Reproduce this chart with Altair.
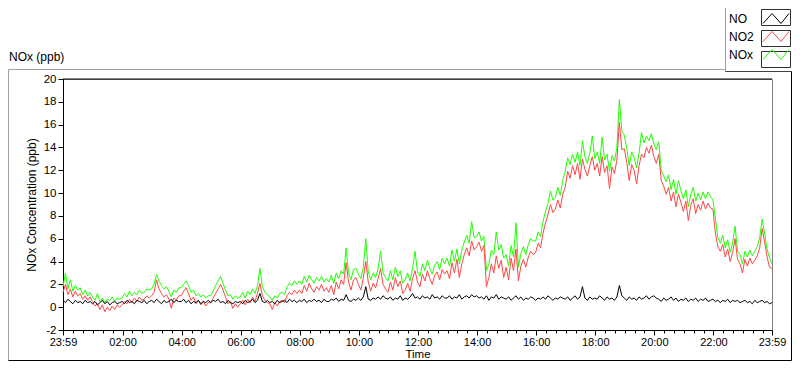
import altair as alt
import pandas as pd

series_names = ["NO", "NO2", "NOx"]
series_colors = ["#000000", "#ff4646", "#1eff00"]

# minutes after 23:59 (5-minute samples)
minutes = list(range(0, 1441, 5))

tick_minutes = [0, 121, 241, 361, 481, 601, 721, 841, 961, 1081, 1201, 1321, 1440]
tick_labels = ["23:59", "02:00", "04:00", "06:00", "08:00", "10:00", "12:00",
               "14:00", "16:00", "18:00", "20:00", "22:00", "23:59"]
minor_tick_minutes = [m for m in range(21, 1440, 20) if m not in tick_minutes]
y_ticks = [-2, 0, 2, 4, 6, 8, 10, 12, 14, 16, 18, 20]

no2 = [
    1.3, 2.0, 1.1, 1.6, 0.9, 1.4, 1.0, 1.2, 0.7, 1.0, 0.6, 0.9,
    0.5, 0.1, 0.3, -0.2, 0.2, -0.4, 0.0, -0.3, 0.1, -0.2, 0.2, 0.0,
    0.2, 0.5, 0.3, 0.7, 0.4, 0.8, 0.5, 0.9, 0.6, 0.7, 1.0, 0.8,
    1.0, 1.3, 2.4, 1.6, 1.2, 0.9, 1.1, 0.7, -0.1, 0.8, 0.6, 1.0,
    1.0, 1.4, 1.7, 1.2, 0.6, 0.9, 0.3, 0.6, 0.2, 0.5, 0.1, 0.4,
    0.4, 0.8, 1.2, 1.6, 2.0, 1.5, 0.9, 0.3, 0.5, -0.1, 0.3, 0.0,
    0.3, 0.6, 0.2, 0.7, 0.4, 0.9, 0.5, 1.2, 2.1, 1.0, 0.6, 0.4,
    0.3, -0.2, 0.4, 0.1, 0.5, 0.6, 0.4, 1.0, 1.3, 1.1, 1.5, 1.2,
    1.5, 1.2, 1.9, 1.4, 2.1, 1.6, 1.3, 1.8, 1.5, 2.0, 1.4, 1.7,
    1.3, 1.9, 1.1, 2.2, 1.6, 2.4, 2.0, 3.9, 2.2, 1.5, 2.4, 2.6,
    2.0, 1.5, 2.6, 4.0, 2.2, 1.4, 2.1, 1.7, 2.5, 3.4, 2.0, 1.6,
    1.3, 2.2, 1.5, 2.6, 1.8, 2.3, 1.2, 1.5, 2.1, 1.4, 2.5, 3.2,
    2.2, 1.8, 2.9, 2.3, 3.2, 2.5, 2.0, 2.8, 3.1, 2.4, 3.3, 2.9,
    3.2, 2.5, 3.9, 3.0, 4.2, 2.6, 3.8, 4.6, 5.2, 4.5, 5.8, 5.0,
    5.3, 5.7, 4.9, 5.4, 1.8, 2.6, 3.8, 3.0, 4.5, 3.4, 4.1, 2.6,
    3.5, 2.4, 4.3, 3.2, 5.1, 2.3, 3.6, 4.2, 3.5, 4.4, 4.9, 4.6,
    4.8, 5.6, 5.2, 6.5, 7.4, 8.1, 9.0, 8.3, 8.6, 9.4, 8.7, 9.9,
    10.5, 11.9, 11.3, 12.4, 11.6, 12.6, 11.2, 13.0, 12.1, 11.5, 12.4, 13.2,
    12.0, 12.6, 11.5, 13.2, 11.8, 12.4, 10.4, 12.3, 11.7, 12.9, 16.2, 13.8,
    13.9, 12.7, 11.1, 12.5, 12.0, 10.8, 12.4, 13.4, 13.1, 14.0, 13.5, 14.2,
    13.2, 12.6, 13.4, 11.1, 10.6, 9.9, 10.5, 9.3, 10.1, 8.8, 9.9, 9.2,
    8.4, 9.3, 7.6, 8.9, 9.5, 8.2, 9.0, 8.5, 9.3, 8.6, 9.1, 8.7,
    8.6, 6.5, 5.3, 4.9, 5.5, 4.4, 5.1, 4.0, 4.8, 6.0, 4.2, 3.8,
    3.0, 4.2, 3.6, 4.3, 3.8, 4.1, 4.5, 5.2, 6.9, 5.7, 4.4, 3.5,
    3.4,
]

nox = [
    1.8, 3.0, 1.6, 2.4, 1.4, 1.9, 1.5, 1.7, 1.1, 1.5, 1.0, 1.3,
    0.9, 0.6, 1.2, 0.5, 0.8, 0.4, 0.7, 0.6, 0.9, 0.5, 0.8, 0.7,
    0.8, 1.2, 0.9, 1.4, 1.0, 1.3, 1.1, 1.5, 1.2, 1.3, 1.6, 1.5,
    1.6, 2.0, 2.9, 2.3, 1.9, 1.6, 1.8, 1.4, 0.9, 1.5, 1.3, 1.7,
    1.7, 2.0, 2.3, 1.9, 1.3, 1.5, 1.0, 1.2, 0.9, 1.1, 0.8, 1.0,
    1.0, 1.4, 1.9, 2.3, 2.7, 2.1, 1.5, 1.0, 1.1, 0.7, 1.0, 0.8,
    0.9, 1.3, 0.8, 1.4, 1.1, 1.6, 1.2, 1.9, 3.4, 1.8, 1.3, 1.1,
    0.9, 0.6, 1.0, 0.8, 1.2, 1.3, 1.1, 1.8, 2.1, 1.9, 2.3, 2.0,
    2.3, 2.0, 2.7, 2.2, 2.8, 2.4, 2.1, 2.6, 2.3, 2.7, 2.2, 2.5,
    2.2, 2.8, 2.1, 3.0, 2.5, 3.2, 2.9, 5.2, 3.0, 2.4, 3.3, 3.4,
    2.9, 2.5, 3.5, 6.0, 3.1, 2.4, 3.0, 2.6, 3.4, 4.9, 3.0, 2.6,
    2.3, 3.2, 2.4, 3.5, 2.7, 3.2, 2.1, 2.4, 3.0, 2.3, 3.4, 4.9,
    3.1, 2.7, 3.8, 3.2, 4.1, 3.4, 2.9, 3.7, 4.0, 3.3, 4.3, 3.8,
    4.3, 3.6, 5.0, 4.0, 5.1, 3.8, 5.0, 5.7, 6.3, 5.6, 7.5, 6.1,
    6.2, 6.6, 5.8, 6.2, 3.2, 3.8, 5.0, 4.6, 6.6, 5.0, 5.5, 4.3,
    4.6, 3.6, 5.4, 4.4, 7.4, 3.5, 4.7, 5.3, 4.6, 5.5, 6.0, 5.8,
    5.8, 6.6, 6.2, 7.5, 8.4, 9.1, 10.2, 9.4, 9.6, 10.5, 9.8, 11.1,
    11.9, 13.1, 12.5, 13.4, 12.7, 13.6, 12.4, 14.6, 13.2, 12.6, 13.5, 15.0,
    13.0, 13.6, 12.6, 14.9, 12.9, 13.4, 11.9, 13.3, 12.8, 14.0, 18.2, 15.4,
    15.1, 13.9, 12.4, 13.6, 13.1, 12.2, 13.5, 15.3, 14.4, 15.0, 14.6, 15.2,
    14.3, 13.8, 14.5, 12.0, 11.5, 11.0, 11.6, 10.3, 11.2, 9.9, 11.1, 10.2,
    9.5, 10.3, 8.8, 9.9, 10.5, 9.3, 10.0, 9.4, 10.1, 9.5, 10.1, 9.7,
    9.4, 7.8, 6.1, 5.6, 6.3, 5.2, 5.9, 4.8, 5.6, 7.1, 4.9, 4.6,
    3.8, 4.9, 4.4, 5.0, 4.5, 4.9, 5.3, 6.1, 7.7, 6.5, 5.1, 4.3,
    3.8,
]

no = [
    0.6, 0.4, 0.7, 0.5, 0.3, 0.6, 0.4, 0.5, 0.3, 0.6, 0.4, 0.5,
    0.3, 0.5, 0.2, 0.4, 0.6, 0.3, 0.5, 0.2, 0.4, 0.5, 0.3, 0.4,
    0.5, 0.3, 0.6, 0.4, 0.5, 0.3, 0.6, 0.5, 0.4, 0.6, 0.3, 0.5,
    0.6, 0.4, 0.7, 0.5, 0.3, 0.6, 0.4, 0.5, 0.7, 0.4, 0.6, 0.5,
    0.5, 0.7, 0.4, 0.6, 0.3, 0.5, 0.4, 0.6, 0.3, 0.5, 0.4, 0.6,
    0.4, 0.6, 0.5, 0.7, 0.4, 0.5, 0.3, 0.6, 0.4, 0.3, 0.5, 0.4,
    0.5, 0.3, 0.6, 0.4, 0.5, 0.7, 0.4, 0.6, 1.2, 0.5, 0.4, 0.6,
    0.4, 0.5, 0.3, 0.6, 0.4, 0.5, 0.6, 0.4, 0.7, 0.5, 0.6, 0.4,
    0.6, 0.5, 0.7, 0.4, 0.6, 0.5, 0.7, 0.5, 0.6, 0.4, 0.7, 0.5,
    0.5, 0.7, 0.6, 0.8, 0.5, 0.7, 0.6, 1.1, 0.6, 0.5, 0.7, 0.6,
    0.8, 0.6, 0.9, 1.8, 0.7, 0.6, 0.8, 0.7, 0.9, 0.7, 1.0, 0.8,
    0.7, 0.9, 0.6, 0.8, 0.7, 1.0, 0.6, 0.8, 0.7, 0.9, 1.2, 0.8,
    0.9, 0.7, 1.0, 0.8, 0.9, 0.7, 1.1, 0.8, 0.9, 0.7, 1.0, 0.8,
    0.8, 1.0, 0.7, 0.9, 0.8, 1.1, 0.7, 0.9, 1.0, 0.8, 1.1, 0.9,
    1.0, 0.8, 0.9, 0.7, 1.0, 0.6, 0.9, 0.8, 1.1, 0.7, 0.9, 0.8,
    0.7, 0.9, 0.6, 0.8, 1.0, 0.7, 0.9, 0.6, 0.8, 0.7, 0.9, 0.8,
    0.6, 0.8, 0.7, 0.9, 0.7, 1.0, 0.8, 0.6, 0.8, 0.7, 0.9, 0.8,
    0.7, 0.9, 0.6, 0.8, 1.0, 0.7, 0.9, 1.8, 0.8, 0.6, 0.9, 0.7,
    0.8, 0.7, 1.0, 0.8, 0.6, 0.9, 0.7, 0.8, 0.6, 0.9, 1.9, 1.0,
    0.8, 0.6, 0.9, 0.7, 0.8, 0.6, 0.9, 0.7, 0.8, 1.0, 0.7, 0.9,
    1.0, 0.8, 0.7, 0.5, 0.8, 0.6, 0.7, 0.9, 0.6, 0.8, 0.5, 0.7,
    0.6, 0.8, 0.5, 0.7, 0.6, 0.8, 0.5, 0.7, 0.6, 0.8, 0.5, 0.6,
    0.7, 0.5, 0.6, 0.4, 0.6, 0.5, 0.7, 0.4, 0.6, 0.5, 0.6, 0.4,
    0.5, 0.6, 0.4, 0.5, 0.3, 0.6, 0.4, 0.5, 0.6, 0.4, 0.5, 0.3,
    0.4,
]

wide = pd.DataFrame({"minute": minutes, "NO": no, "NO2": no2, "NOx": nox})
df = wide.melt(id_vars="minute", var_name="series", value_name="value")

FONT = "Liberation Sans"
W, H = 709, 251

label_expr = "[" + ",".join("'%s'" % s for s in tick_labels) + "][indexof([" + \
    ",".join(str(m) for m in tick_minutes) + "], datum.value)]"

x_scale = alt.Scale(domain=[0, 1440], nice=False, zero=False)
y_scale = alt.Scale(domain=[-2, 20], nice=False, zero=False)

y_enc = alt.Y("value:Q", scale=y_scale, axis=alt.Axis(
    values=y_ticks, labelExpr="'' + datum.value", title="NOx Concentration (ppb)",
    grid=False, tickSize=5, tickColor="black", domainColor="black",
    labelColor="black", labelFontSize=11.5, labelPadding=2,
    titleFontSize=12, titleFontWeight="normal", titleColor="black", titlePadding=5))

# zigzag legend glyph, drawn to the right of its label
zig = "M4.85,0.5L5.75,-0.5L6.65,0.5L7.45,-0.5"
color_enc = alt.Color("series:N", scale=alt.Scale(domain=series_names, range=series_colors),
                      legend=alt.Legend(orient="none", legendX=641, legendY=-71, title=None,
                                        symbolType=zig, symbolSize=400, symbolStrokeWidth=1,
                                        labelAlign="left", labelOffset=4,
                                        rowPadding=0, padding=0, labelFontSize=12,
                                        labelColor="black", labelBaseline="middle"))

x_major = alt.X("minute:Q", scale=x_scale, axis=alt.Axis(
    values=tick_minutes, labelExpr=label_expr, orient="bottom", title="Time", grid=False,
    tickSize=5, tickColor="black", domainColor="black", labelColor="black",
    labelFontSize=11, labelPadding=1, labelFlush=False, labelOverlap=False,
    titleFontSize=11.5, titleFontWeight="normal", titleColor="black", titlePadding=1))
x_minor = alt.X("minute:Q", scale=x_scale, axis=alt.Axis(
    values=minor_tick_minutes, labels=False, orient="bottom", title=None, grid=False,
    domain=False, tickSize=3, tickColor="black"))
x_plain = alt.X("minute:Q", scale=x_scale, axis=None)

lines = alt.Chart(df)
l_nox = lines.transform_filter(alt.datum.series == "NOx").mark_line(strokeWidth=1).encode(
    x=x_major, y=y_enc, color=color_enc)
l_no2 = lines.transform_filter(alt.datum.series == "NO2").mark_line(strokeWidth=1).encode(
    x=x_minor, y=y_enc, color=color_enc)
l_no = lines.transform_filter(alt.datum.series == "NO").mark_line(strokeWidth=1).encode(
    x=x_plain, y=y_enc, color=color_enc)

one = alt.Data(values=[{"k": 1}])
deco = alt.Chart(one)

# outer panel frame (raised)
f_top = deco.mark_rule(color="#a0a0a0").encode(x=alt.value(-54.5), x2=alt.value(728.5), y=alt.value(-9.5))
f_left = deco.mark_rule(color="#a0a0a0").encode(x=alt.value(-54.5), y=alt.value(-9.5), y2=alt.value(281.5))
f_bottom = deco.mark_rule(color="#000000").encode(x=alt.value(-54.5), x2=alt.value(728.5), y=alt.value(281.5))
f_right = deco.mark_rule(color="#000000").encode(x=alt.value(728.5), y=alt.value(-9.5), y2=alt.value(281.5))
# top border of plot area
p_top = deco.mark_rule(color="#000000").encode(x=alt.value(0), x2=alt.value(W), y=alt.value(0))
# legend panel
lg_bg = deco.mark_rect(fill="white").encode(x=alt.value(662), x2=alt.value(729), y=alt.value(-71), y2=alt.value(-7))
lg_left = deco.mark_rule(color="#a0a0a0").encode(x=alt.value(662.5), y=alt.value(-71), y2=alt.value(-7))
lg_bottom = deco.mark_rule(color="#404040").encode(x=alt.value(662.5), x2=alt.value(729), y=alt.value(-7.5))
boxes = [deco.mark_rect(fill="white", stroke="#303030", strokeWidth=1).encode(
    x=alt.value(698.5), x2=alt.value(727.5), y=alt.value(c - 8.5), y2=alt.value(c + 7.5))
    for c in (-61, -40, -19)]
title_txt = deco.mark_text(align="left", baseline="middle", fontSize=12, color="black").encode(
    x=alt.value(-54), y=alt.value(-22), text=alt.value("NOx (ppb)"))

chart = alt.layer(
    f_top, f_left, f_bottom, f_right, lg_bg, lg_left, lg_bottom, *boxes, title_txt,
    l_nox, l_no2, l_no, p_top,
).resolve_axis(x="independent").properties(
    width=W, height=H,
    padding={"left": 55, "top": 71, "right": 20, "bottom": 31},
    autosize=alt.AutoSizeParams(type="none"),
    background="white",
).configure(font=FONT).configure_view(stroke="#808080", strokeWidth=1)

chart.save("out.html", embed_options={"renderer": "svg", "actions": False})
